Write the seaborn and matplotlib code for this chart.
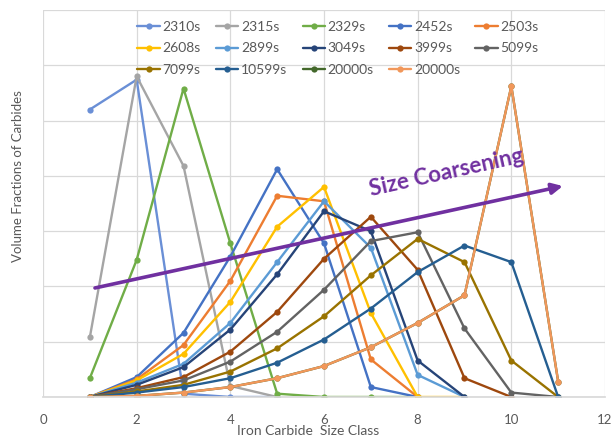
import numpy as np
import pandas as pd
import matplotlib
matplotlib.use("Agg")
import matplotlib.pyplot as plt
import seaborn as sns

# ---- data ----
size_class = [1, 2, 3, 4, 5, 6, 7, 8, 9, 10, 11]
series_names = ["2310s", "2315s", "2329s", "2452s", "2503s", "2608s", "2899s",
                "3049s", "3999s", "5099s", "7099s", "10599s", "20000s", "20000s"]
v_2310 = [0.260, 0.287, 0.003, 0.0, 0.0]
v_2315 = [0.054, 0.290, 0.209, 0.010, 0.0]
v_2329 = [0.017, 0.124, 0.279, 0.139, 0.003, 0.0, 0.0, 0.0]
v_2452 = [0.0, 0.018, 0.058, 0.127, 0.206, 0.139, 0.009, 0.0]
v_2503 = [0.0, 0.016, 0.047, 0.105, 0.182, 0.177, 0.034, 0.0]
v_2608 = [0.0, 0.015, 0.039, 0.086, 0.154, 0.190, 0.076, 0.0, 0.0]
v_2899 = [0.0, 0.013, 0.030, 0.067, 0.122, 0.177, 0.135, 0.020, 0.0]
v_3049 = [0.0, 0.011, 0.027, 0.061, 0.111, 0.168, 0.150, 0.033, 0.0]
v_3999 = [0.0, 0.008, 0.018, 0.041, 0.077, 0.125, 0.163, 0.115, 0.017, 0.0]
v_5099 = [0.0, 0.007, 0.015, 0.032, 0.059, 0.097, 0.141, 0.149, 0.062, 0.004, 0.0]
v_7099 = [0.0, 0.005, 0.011, 0.023, 0.044, 0.073, 0.110, 0.143, 0.122, 0.033, 0.0]
v_10599 = [0.0, 0.004, 0.009, 0.017, 0.031, 0.052, 0.080, 0.113, 0.137, 0.122, 0.0]
v_20000a = [0.0, 0.001, 0.004, 0.009, 0.017, 0.028, 0.045, 0.067, 0.092, 0.281, 0.014]
v_20000b = [0.0, 0.001, 0.004, 0.009, 0.017, 0.028, 0.045, 0.067, 0.092, 0.281, 0.014]
all_values = [v_2310, v_2315, v_2329, v_2452, v_2503, v_2608, v_2899, v_3049,
              v_3999, v_5099, v_7099, v_10599, v_20000a, v_20000b]
colors = ["#6A8FD6", "#A5A5A5", "#70AD47", "#4472C4", "#ED7D31", "#FFC000",
          "#5B9BD5", "#264478", "#9E480E", "#636363", "#997300", "#255E91",
          "#43682B", "#F1975A"]
x_ticks = [0, 2, 4, 6, 8, 10, 12]

# ---- figure ----
sns.set_theme(style="white")
plt.rcParams["font.family"] = ["Lato", "DejaVu Sans"]
txt = "#595959"
grid_c = "#D9D9D9"

fig = plt.figure(figsize=(6.16, 4.42), dpi=100)
ax = fig.add_axes([43 / 616, 1 - 397 / 442, 562 / 616, 387 / 442])

handles = []
for name, vals, col in zip(series_names, all_values, colors):
    df = pd.DataFrame({"cls": size_class[:len(vals)], "vf": vals})
    sns.lineplot(data=df, x="cls", y="vf", ax=ax, color=col, marker="o",
                 markersize=4.5, markeredgewidth=0, linewidth=1.7,
                 sort=False, errorbar=None, label=name, legend=False)
    handles.append(ax.lines[-1])

ax.set_xlim(0, 12)
ax.set_ylim(0, 0.35)
ax.set_xticks(x_ticks)
ax.set_xticklabels([str(t) for t in x_ticks])
ax.set_yticks(np.arange(0, 0.351, 0.05))
ax.set_yticklabels([])
ax.grid(True, color=grid_c, linewidth=0.9)
ax.set_axisbelow(True)
for s in ["top", "right", "left"]:
    ax.spines[s].set_visible(False)
ax.spines["bottom"].set_color(grid_c)
ax.tick_params(axis="both", length=0)
ax.tick_params(axis="x", colors=txt, labelsize=9.5, pad=12)

ax.set_xlabel("Iron Carbide  Size Class", color=txt, fontsize=10)
ax.xaxis.set_label_coords((308 - 43) / 562, -(425 - 397) / 387)
ax.set_ylabel("Volume Fractions of Carbides", color=txt, fontsize=9.5)
ax.yaxis.set_label_coords(-(43 - 24) / 562, (397 - 176) / 387)

# legend, row-major order as in the reference
order = [0, 5, 10, 1, 6, 11, 2, 7, 12, 3, 8, 13, 4, 9]
leg = ax.legend([handles[i] for i in order], [series_names[i] for i in order],
                ncol=5, loc="upper center", bbox_to_anchor=(0.525, 0.978),
                frameon=False, fontsize=10, handlelength=1.6, handletextpad=0.2,
                columnspacing=1.1, labelspacing=0.66, borderaxespad=0, borderpad=0.2)
for t in leg.get_texts():
    t.set_color(txt)

# size coarsening arrow
purple = "#7030A0"
ax.annotate("", xy=(11.10, 0.1908), xytext=(1.11, 0.0986),
            arrowprops=dict(arrowstyle="-|>", color=purple, lw=2.6,
                            mutation_scale=16, shrinkA=0, shrinkB=0))
ax.text(8.61, 0.2030, "Size Coarsening", color=purple, fontsize=16,
        fontweight="bold", rotation=12.5, ha="center", va="center",
        rotation_mode="anchor")

fig.savefig("out.png", dpi=100)
